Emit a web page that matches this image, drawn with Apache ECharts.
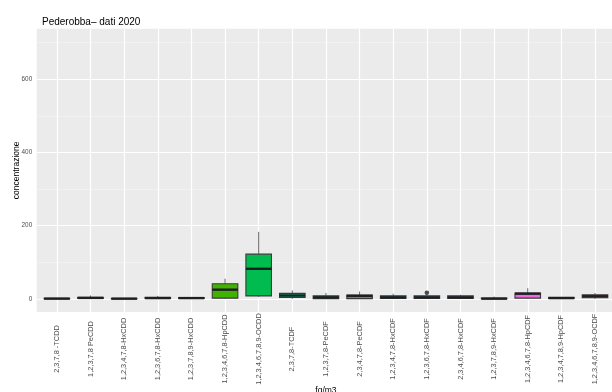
<!DOCTYPE html>
<html>
<head>
<meta charset="utf-8">
<script src="https://cdn.jsdelivr.net/npm/echarts@6/dist/echarts.min.js"></script>
<style>
  html, body { margin: 0; padding: 0; background: #ffffff; }
  #chart { width: 612px; height: 392px; }
</style>
</head>
<body>
<div id="chart"></div>
<script>
// Congeners (PCDD / PCDF) on the x axis
const categories = [
  '2,3,7,8 -TCDD',
  '1,2,3,7,8 PeCDD',
  '1,2,3,4,7,8-HxCDD',
  '1,2,3,6,7,8-HxCDD',
  '1,2,3,7,8,9-HxCDD',
  '1,2,3,4,6,7,8-HpCDD',
  '1,2,3,4,6,7,8,9-OCDD',
  '2,3,7,8-TCDF',
  '1,2,3,7,8-PeCDF',
  '2,3,4,7,8-PeCDF',
  '1,2,3,4,7,8-HxCDF',
  '1,2,3,6,7,8-HxCDF',
  '2,3,4,6,7,8-HxCDF',
  '1,2,3,7,8,9-HxCDF',
  '1,2,3,4,6,7,8-HpCDF',
  '1,2,3,4,7,8,9-HpCDF',
  '1,2,3,4,6,7,8,9-OCDF'
];

// Box statistics, fg/m3
const whiskerLow  = [0, 0,   0,   0, 0,   0,  5,   0,   0,   0,   0, 0, 0, 0,   0,  0, 0];
const q1          = [0.2, 1, 0.2, 1, 1,   2,  8,   3.5, 0.5, 0.5, 1, 1, 1, 0,   2,  1, 3];
const median      = [0.6, 2.5, 0.5, 2, 2, 25, 82,  9,   4,   8,   4, 4, 4, 0.5, 14, 2, 7];
const q3          = [1.2, 4, 1,   4, 3.5, 41, 122, 15,  8,   10,  8, 8, 8, 2,   16, 4, 11];
const whiskerHigh = [2, 9,   2,   8, 5,   55, 183, 23,  16,  20,  14, 11, 11, 6, 29, 5, 16];

// Outliers beyond the whiskers
const outlierCat   = [11];
const outlierValue = [16.5];

// Y axis tick labels
const yTicks = [0, 200, 400, 600];
const yGrid  = [0, 100, 200, 300, 400, 500, 600, 700];

// Default discrete hue palette for 17 groups
const fills = [
  '#F8766D', '#E88526', '#D09400', '#B2A000', '#89AC00', '#3FB300',
  '#00BB4E', '#00C08A', '#00C0B0', '#00BCD5', '#00ACFC', '#4BA2FF',
  '#B285FF', '#D475FB', '#EE68E6', '#FF62C9', '#FF6A98'
];

const boxData = categories.map((c, i) =>
  [i, whiskerLow[i], q1[i], median[i], q3[i], whiskerHigh[i]]);
const outlierData = outlierCat.map((c, k) => [c, outlierValue[k]]);
const catIdx = categories.map((c, i) => i);

function renderBox(params, api) {
  const i = api.value(0);
  const x = api.coord([i, 0])[0];
  const w = api.size([1, 0])[0] * 0.76;
  const y = v => api.coord([i, v])[1];
  const yLo = y(api.value(1));
  const yQ1 = y(api.value(2));
  const yMed = y(api.value(3));
  const yQ3 = y(api.value(4));
  const yHi = y(api.value(5));
  const whisker = { stroke: '#666666', lineWidth: 1 };
  return {
    type: 'group',
    children: [
      { type: 'line', shape: { x1: x, y1: yQ3, x2: x, y2: yHi }, style: whisker },
      { type: 'line', shape: { x1: x, y1: yQ1, x2: x, y2: yLo }, style: whisker },
      { type: 'rect', shape: { x: x - w / 2, y: yQ3, width: w, height: Math.max(yQ1 - yQ3, 0.5) },
        style: { fill: fills[i], stroke: '#3a3a3a', lineWidth: 1.1 } },
      { type: 'line', shape: { x1: x - w / 2, y1: yMed, x2: x + w / 2, y2: yMed },
        style: { stroke: '#1f1f1f', lineWidth: 2.4 } }
    ]
  };
}

const gridLines = [];
yGrid.forEach(v => {
  const major = yTicks.indexOf(v) >= 0;
  gridLines.push({ yAxis: v, lineStyle: { color: major ? '#FFFFFF' : '#F4F4F4', width: major ? 1.2 : 0.8, type: 'solid' } });
});
catIdx.forEach(i => {
  gridLines.push({ xAxis: i, lineStyle: { color: '#FFFFFF', width: 1.2, type: 'solid' } });
});

const chart = echarts.init(document.getElementById('chart'), null, { renderer: 'canvas' });
const font = '"Liberation Sans", Arial, sans-serif';

chart.setOption({
  animation: false,
  textStyle: { fontFamily: font },
  title: {
    text: 'Pederobba– dati 2020',
    left: 37, top: 12,
    textStyle: { fontSize: 10, fontWeight: 'normal', color: '#000000', fontFamily: font }
  },
  grid: {
    left: 36.7, right: -3.2, top: 28.7, bottom: 80,
    outerBoundsMode: 'none',
    containLabel: false,
    show: true, backgroundColor: '#EBEBEB', borderWidth: 0
  },
  xAxis: {
    type: 'value',
    min: -0.6, max: 16.6,
    name: 'fg/m3',
    nameLocation: 'middle',
    nameGap: 74,
    nameMoveOverlap: false,
    nameTextStyle: { fontSize: 8.5, color: '#000000', fontFamily: font },
    axisLine: { show: false },
    axisTick: { show: true, customValues: catIdx, length: 3, lineStyle: { color: '#333333', width: 1 } },
    axisLabel: {
      customValues: catIdx,
      formatter: v => categories[Math.round(v)],
      rotate: 90,
      align: 'center',
      verticalAlign: 'middle',
      margin: 37,
      padding: [5, 0, 0, 0],
      fontSize: 7.4,
      color: '#4D4D4D',
      fontFamily: font
    },
    splitLine: { show: false }
  },
  yAxis: {
    type: 'value',
    min: -36, max: 738,
    name: 'concentrazione',
    nameLocation: 'middle',
    nameRotate: 90,
    nameGap: 16,
    nameMoveOverlap: false,
    nameTextStyle: { fontSize: 8.5, color: '#000000', fontFamily: font },
    axisLine: { show: false },
    axisTick: { show: true, customValues: yTicks, length: 3, lineStyle: { color: '#333333', width: 1 } },
    axisLabel: { customValues: yTicks, margin: 4.5, fontSize: 6.4, color: '#4D4D4D', fontFamily: font },
    splitLine: { show: false }
  },
  series: [
    {
      type: 'line',
      data: [],
      z: 1,
      silent: true,
      markLine: {
        z: 1,
        silent: true,
        symbol: ['none', 'none'],
        label: { show: false },
        animation: false,
        data: gridLines
      }
    },
    {
      type: 'custom',
      z: 10,
      renderItem: renderBox,
      encode: { x: 0, y: [1, 2, 3, 4, 5] },
      data: boxData
    },
    {
      type: 'scatter',
      z: 11,
      symbolSize: 4.5,
      itemStyle: { color: '#1f1f1f' },
      data: outlierData
    }
  ]
});
</script>
</body>
</html>
